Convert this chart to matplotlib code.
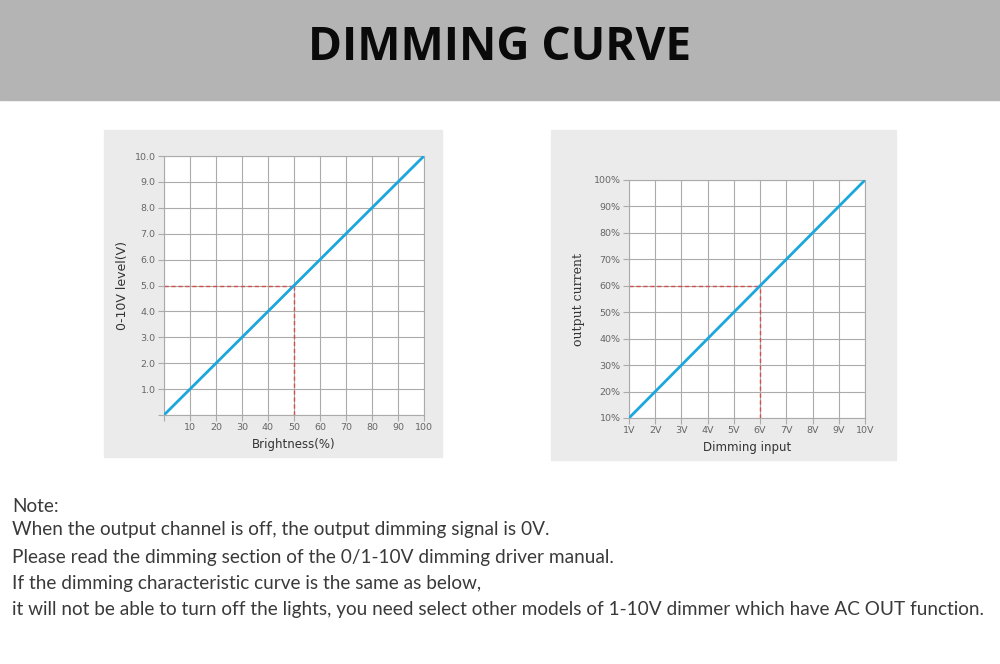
import matplotlib
matplotlib.use('Agg')
import matplotlib.pyplot as plt
from matplotlib.patches import Rectangle

W, H = 1000, 664

# ---------------------------------------------------------------- data
TITLE = 'DIMMING CURVE'

brightness_pct = [0, 50, 100]
level_v = [0, 5, 10]
left_mark = (50, 5)
left_xticks = [10, 20, 30, 40, 50, 60, 70, 80, 90, 100]
left_yticks = [1, 2, 3, 4, 5, 6, 7, 8, 9, 10]
left_yticklabels = ['1.0', '2.0', '3.0', '4.0', '5.0', '6.0', '7.0', '8.0',
                    '9.0', '10.0']

dim_input_v = [1, 6, 10]
out_current_pct = [10, 60, 100]
right_mark = (6, 60)
right_xticks = [1, 2, 3, 4, 5, 6, 7, 8, 9, 10]
right_xticklabels = ['1V', '2V', '3V', '4V', '5V', '6V', '7V', '8V', '9V', '10V']
right_yticks = [10, 20, 30, 40, 50, 60, 70, 80, 90, 100]
right_yticklabels = ['10%', '20%', '30%', '40%', '50%', '60%', '70%', '80%',
                     '90%', '100%']

NOTES = [
    'Note:',
    'When the output channel is off, the output dimming signal is 0V.',
    'Please read the dimming section of the 0/1-10V dimming driver manual.',
    'If the dimming characteristic curve is the same as below,',
    'it will not be able to turn off the lights, you need select other models '
    'of 1-10V dimmer which have AC OUT function.',
]
NOTE_Y = [506, 530, 557, 583, 609]

BLUE = '#1ba7dd'
RED = '#d0504c'
GRID = '#ababab'
PANEL = '#ebebeb'


def fx(px):
    return px / W


def fy(py):
    return 1 - py / H


def rect(x0, y0, x1, y1, color):
    fig.add_artist(Rectangle((fx(x0), fy(y1)), fx(x1) - fx(x0),
                             fy(y0) - fy(y1), transform=fig.transFigure,
                             color=color, zorder=-5))


def axes_px(x0, y0, x1, y1):
    return fig.add_axes([fx(x0), fy(y1), fx(x1) - fx(x0), fy(y0) - fy(y1)])


def style(ax):
    ax.set_facecolor('white')
    ax.grid(True, color=GRID, lw=0.8)
    ax.set_axisbelow(True)
    for s in ax.spines.values():
        s.set_color(GRID)
        s.set_linewidth(0.8)
    ax.tick_params(length=4, width=0.8, color=GRID, labelsize=6.8,
                   labelcolor='#666666', pad=2)


fig = plt.figure(figsize=(W / 100, H / 100), dpi=100)
fig.patch.set_facecolor('white')

# header band
rect(0, 0, 1000, 100, '#b4b4b4')
fig.text(0.5, fy(47), TITLE, ha='center', va='center', fontsize=33,
         fontweight='bold', family=['Open Sans', 'DejaVu Sans'],
         color='#0a0a0a')

# ---------------------------------------------------------------- left
rect(104, 130, 442, 457, PANEL)
ax = axes_px(164, 156, 424, 415)
style(ax)
ax.plot([brightness_pct[0], brightness_pct[-1]], [level_v[0], level_v[-1]],
        color=BLUE, lw=2, solid_capstyle='round', zorder=3)
mx, my = left_mark
ax.plot([0, mx], [my, my], color=RED, lw=1, ls=(0, (3, 2)), zorder=2)
ax.plot([mx, mx], [0, my], color=RED, lw=1, ls=(0, (3, 2)), zorder=2)
ax.set_xlim(0, 100)
ax.set_ylim(0, 10)
ax.set_xticks([0] + left_xticks, [''] + [str(v) for v in left_xticks])
ax.set_yticks([0] + left_yticks, [''] + left_yticklabels)
ax.set_xlabel('Brightness(%)', fontsize=8.5, color='#333333', labelpad=4)
ax.set_ylabel('0-10V level(V)', fontsize=9, color='#333333', labelpad=4)

# ---------------------------------------------------------------- right
rect(551, 130, 896, 460, PANEL)
ax = axes_px(629, 180, 865, 418)
style(ax)
ax.plot([dim_input_v[0], dim_input_v[-1]],
        [out_current_pct[0], out_current_pct[-1]],
        color=BLUE, lw=2, solid_capstyle='round', zorder=3)
mx, my = right_mark
ax.plot([1, mx], [my, my], color=RED, lw=1, ls=(0, (3, 2)), zorder=2)
ax.plot([mx, mx], [10, my], color=RED, lw=1, ls=(0, (3, 2)), zorder=2)
ax.set_xlim(1, 10)
ax.set_ylim(10, 100)
ax.set_xticks(right_xticks, right_xticklabels)
ax.set_yticks(right_yticks, right_yticklabels)
ax.set_xlabel('Dimming input', fontsize=8.5, color='#333333', labelpad=4)
ax.set_ylabel('output current', fontsize=9, color='#333333', labelpad=6,
              family=['DejaVu Serif'])

# ---------------------------------------------------------------- notes
# no condensed face installed: shrink the size so the longest line fits
renderer = fig.canvas.get_renderer()
probe = fig.text(0, 0, NOTES[-1], fontsize=14, family=['Lato'])
wpx = probe.get_window_extent(renderer).width
probe.remove()
note_size = 14 * 978 / wpx
for line, y in zip(NOTES, NOTE_Y):
    fig.text(fx(12), fy(y), line, ha='left', va='center', fontsize=note_size,
             color='#3a3a3a', family=['Lato'])

fig.savefig('out.png', dpi=100)
